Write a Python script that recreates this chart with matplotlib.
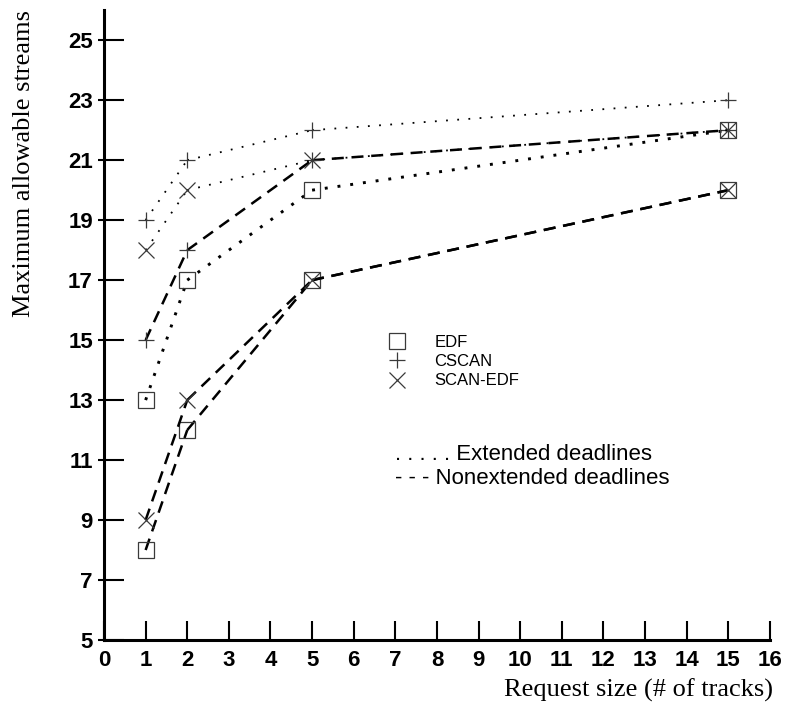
import numpy as np
import matplotlib
matplotlib.use('Agg')
import matplotlib.pyplot as plt
from matplotlib.lines import Line2D

# request size (# of tracks)
req_size = [1, 2, 5, 15]

# maximum allowable streams
edf_ext = [13, 17, 20, 22]
cscan_ext = [19, 21, 22, 23]
scanedf_ext = [18, 20, 21, 22]
edf_non = [8, 12, 17, 20]
cscan_non = [15, 18, 21, 22]
scanedf_non = [9, 13, 17, 20]

xticks_list = np.arange(0, 17, 1)
yticks_list = np.arange(5, 26, 2)

fig = plt.figure(figsize=(7.88, 7.1), dpi=100)
ax = fig.add_axes([0.132, 0.0986, 0.845, 0.887])

mk = dict(mfc='none', mec='#3a3a3a', mew=0.9, ms=11)

def draw(x, y, marker, lw, dashes):
    # dash pattern restarts at every vertex, like the original plotter
    for i in range(len(x) - 1):
        l, = ax.plot(x[i:i+2], y[i:i+2], color='k', lw=lw, dash_capstyle='butt')
        l.set_dashes(dashes)
    ax.plot(x, y, ls='none', marker=marker, **mk)

# nonextended deadlines (dashed)
draw(req_size, edf_non, 's', 1.8, (4.8, 3.1))
draw(req_size, scanedf_non, 'x', 1.8, (4.8, 3.1))
draw(req_size, cscan_non, '+', 1.8, (4.8, 3.1))

# extended deadlines (dotted)
draw(req_size, edf_ext, 's', 2.1, (1, 3.4))
draw(req_size, cscan_ext, '+', 1.3, (1, 5.2))
draw(req_size, scanedf_ext, 'x', 1.3, (1, 5.2))

ax.set_xlim(0, 16)
ax.set_ylim(5, 26)

for s in ['top', 'right']:
    ax.spines[s].set_visible(False)
for s in ['left', 'bottom']:
    ax.spines[s].set_linewidth(2.2)

ax.set_xticks(xticks_list)
ax.set_xticklabels([str(v) for v in xticks_list], fontsize=16, fontweight='bold',
                   family='Liberation Sans')
ax.set_yticks(yticks_list)
ax.set_yticklabels([str(v) for v in yticks_list], fontsize=16, fontweight='bold',
                   family='Liberation Sans')
ax.set_yticks(yticks_list, minor=True)
ax.yaxis.remove_overlapping_locs = False
ax.tick_params(axis='x', which='major', direction='in', length=13.5, width=1.5, pad=7)
ax.tick_params(axis='y', which='major', direction='in', length=14.5, width=1.5, pad=8)
ax.tick_params(axis='y', which='minor', direction='out', length=4.3, width=1.5)
ax.tick_params(axis='x', which='minor', bottom=False)

ax.set_xlabel('Request size (# of tracks)', fontsize=19, family='Liberation Serif', loc='right')
ax.xaxis.set_label_coords(1.004, -0.062)
ax.set_ylabel('Maximum allowable streams', fontsize=19, family='Liberation Serif', loc='top')
ax.yaxis.set_label_coords(-0.103, 1.0)

handles = [Line2D([], [], ls='none', marker='s', **mk),
           Line2D([], [], ls='none', marker='+', **mk),
           Line2D([], [], ls='none', marker='x', **mk)]
leg = ax.legend(handles, ['EDF', 'CSCAN', 'SCAN-EDF'], loc='upper left',
                bbox_to_anchor=(0.405, 0.508), frameon=False, handlelength=1.0,
                handletextpad=1.75, labelspacing=0.25,
                prop={'family': 'Liberation Sans', 'size': 12})

ax.text(7.0, 11.0, '. . . . . Extended deadlines', fontsize=16, family='Liberation Sans')
ax.text(7.0, 10.2, '- - - Nonextended deadlines', fontsize=16, family='Liberation Sans')

plt.savefig('out.png', dpi=100)
